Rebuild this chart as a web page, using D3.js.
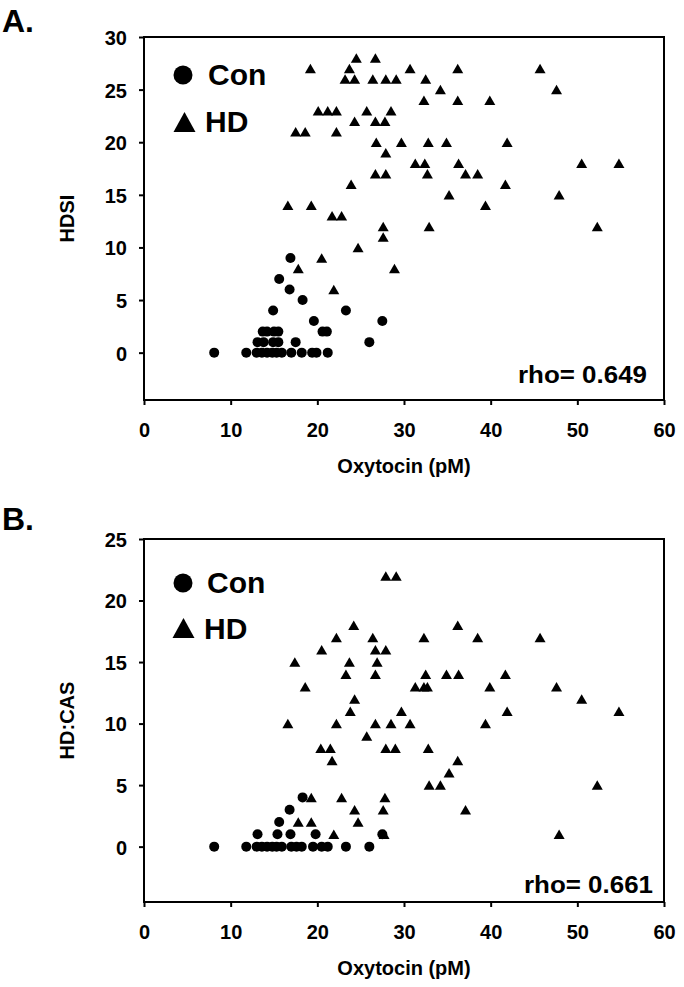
<!DOCTYPE html>
<html><head><meta charset="utf-8">
<script src="https://cdn.jsdelivr.net/npm/d3@7"></script>
<style>body{margin:0;background:#fff}</style>
</head><body>
<svg id="c" width="684" height="987"></svg>
<script>
// ---- data ----
const xTicks = [0, 10, 20, 30, 40, 50, 60];
const yTicksA = [0, 5, 10, 15, 20, 25, 30];
const yTicksB = [0, 5, 10, 15, 20, 25];

// Panel A: HDSI vs oxytocin
const conA = [
  [16.9,9],[15.6,7],[16.8,6],[18.3,5],[14.9,4],[23.3,4],[19.6,3],[27.5,3],
  [13.7,2],[14.2,2],[15.0,2],[15.5,2],[20.6,2],[21.1,2],
  [13.1,1],[13.8,1],[14.9,1],[15.5,1],[17.5,1],[26.0,1],
  [8.1,0],[11.8,0],[13.0,0],[13.6,0],[14.2,0],[14.8,0],[15.3,0],[15.9,0],
  [17.0,0],[18.2,0],[19.4,0],[19.9,0],[21.2,0]
];
const hdA = [
  [19.2,27],[24.5,28],[26.7,28],[23.7,27],[23.2,26],[24.3,26],[26.4,26],[27.9,26],
  [29.1,26],[30.7,27],[36.2,27],[45.7,27],[32.5,26],[34.2,25],[47.6,25],[32.3,24],
  [36.2,24],[39.9,24],[29.7,20],[32.8,20],[34.9,20],[41.9,20],[31.3,18],[32.4,18],
  [36.3,18],[50.5,18],[54.8,18],[32.7,17],[37.1,17],[38.5,17],[41.7,16],[35.2,15],
  [47.9,15],[39.4,14],[32.9,12],[52.3,12],
  [20.1,23],[21.2,23],[22.2,23],[25.7,23],[28.5,23],[24.3,22],[26.7,22],[27.8,22],
  [17.5,21],[18.6,21],[22.2,21],[26.8,20],[27.9,19],[26.7,17],[27.9,17],[23.9,16],
  [16.6,14],[19.3,14],[21.7,13],[22.8,13],[27.6,12],[27.6,11],[24.7,10],[20.5,9],
  [17.8,8],[28.9,8],[21.9,6]
];

// Panel B: HD:CAS vs oxytocin
const conB = [
  [18.3,4],[16.8,3],[15.6,2],
  [13.1,1],[15.4,1],[16.9,1],[19.8,1],[27.5,1],
  [8.1,0],[11.8,0],[13.0,0],[13.6,0],[14.2,0],[14.8,0],[15.3,0],[15.9,0],
  [17.0,0],[17.6,0],[18.2,0],[19.5,0],[20.5,0],[21.2,0],[23.3,0],[26.0,0]
];
const hdB = [
  [27.9,22],[29.1,22],[24.2,18],[22.2,17],[26.4,17],[20.5,16],[26.7,16],[27.9,16],
  [17.4,15],[23.7,15],[26.9,15],[23.3,14],[26.7,14],[18.6,13],[24.3,12],[23.8,11],
  [29.7,11],[16.6,10],[22.2,10],[26.7,10],[28.5,10],[30.7,10],[25.7,9],
  [36.2,18],[32.3,17],[38.5,17],[45.7,17],[32.5,14],[34.9,14],[36.3,14],[41.7,14],
  [31.3,13],[32.3,13],[32.7,13],[39.9,13],[47.6,13],[50.5,12],[41.9,11],[54.8,11],
  [39.4,10],
  [32.8,8],[36.2,7],[35.2,6],[32.9,5],[34.2,5],[52.3,5],[37.1,3],[47.9,1],
  [20.4,8],[21.5,8],[27.9,8],[29.0,8],[21.7,7],[19.3,4],[22.8,4],[27.8,4],
  [24.3,3],[27.6,3],[17.8,2],[19.3,2],[24.7,2],[21.9,1],[27.7,1]
];

const panels = [
  {label:"A.", yTitle:"HDSI", yMax:30, yTicks:yTicksA, con:conA, hd:hdA, rho:"rho= 0.649",
   top:37, labelY:32, rhoX:647, rhoY:383,
   legC:[183,75], legT:[184.5,122], conTxt:[208,85], hdTxt:[205,131.5]},
  {label:"B.", yTitle:"HD:CAS", yMax:25, yTicks:yTicksB, con:conB, hd:hdB, rho:"rho= 0.661",
   top:539, labelY:530, rhoX:653, rhoY:893,
   legC:[183,583], legT:[183.5,628], conTxt:[207,593], hdTxt:[204,639]}
];

const FONT = "'Liberation Sans', Arial, Helvetica, sans-serif";
const svg = d3.select("#c");
const L = 144, R = 664, H = 363;

function tri(w, h) { // triangle centered on its bounding box
  return `M${-w/2},${h/2}L${w/2},${h/2}L0,${-h/2}Z`;
}

panels.forEach(p => {
  const g = svg.append("g");
  const x = d3.scaleLinear().domain([0, 60]).range([L, R]);
  const y = d3.scaleLinear().domain([-4.5, p.yMax]).range([p.top + H, p.top]);
  const bottom = p.top + H;

  // axes
  const ya = g.append("g").attr("transform", `translate(${L},0)`)
    .call(d3.axisLeft(y).tickValues(p.yTicks).tickSize(5).tickPadding(12));
  const xa = g.append("g").attr("transform", `translate(0,${bottom})`)
    .call(d3.axisBottom(x).tickValues(xTicks).tickSize(5).tickPadding(18));
  [ya, xa].forEach(a => {
    a.attr("font-family", FONT).attr("font-size", 20).attr("font-weight", "bold");
    a.select(".domain").remove();
    a.selectAll(".tick line").attr("stroke", "#000").attr("stroke-width", 2);
    a.selectAll(".tick text").attr("fill", "#000");
  });
  ya.selectAll(".tick text").attr("dy", "0.37em");
  xa.selectAll(".tick text").attr("dy", "0.71em");

  // frame
  g.append("rect").attr("x", L).attr("y", p.top).attr("width", R - L).attr("height", H)
    .attr("fill", "none").attr("stroke", "#000").attr("stroke-width", 2);

  // titles
  g.append("text").attr("x", (L + R) / 2).attr("y", bottom + 73)
    .attr("text-anchor", "middle").attr("font-family", FONT).attr("font-size", 20)
    .attr("font-weight", "bold").text("Oxytocin (pM)");
  g.append("text").attr("transform", `translate(74,${p.top + H / 2}) rotate(-90)`)
    .attr("text-anchor", "middle").attr("font-family", FONT).attr("font-size", 20)
    .attr("font-weight", "bold").text(p.yTitle);
  g.append("text").attr("x", 2).attr("y", p.labelY).attr("font-family", FONT)
    .attr("font-size", 32).attr("font-weight", "bold").text(p.label);

  // points
  g.append("g").selectAll("circle").data(p.con).join("circle")
    .attr("cx", d => x(d[0])).attr("cy", d => y(d[1])).attr("r", 5).attr("fill", "#000");
  g.append("g").selectAll("path").data(p.hd).join("path")
    .attr("transform", d => `translate(${x(d[0])},${y(d[1])})`)
    .attr("d", tri(11, 9.5)).attr("fill", "#000");

  // legend
  g.append("circle").attr("cx", p.legC[0]).attr("cy", p.legC[1]).attr("r", 9.5).attr("fill", "#000");
  g.append("path").attr("transform", `translate(${p.legT[0]},${p.legT[1]})`)
    .attr("d", tri(22, 20)).attr("fill", "#000");
  g.append("text").attr("x", p.conTxt[0]).attr("y", p.conTxt[1]).attr("font-family", FONT)
    .attr("font-size", 30).attr("font-weight", "bold").text("Con");
  g.append("text").attr("x", p.hdTxt[0]).attr("y", p.hdTxt[1]).attr("font-family", FONT)
    .attr("font-size", 30).attr("font-weight", "bold").text("HD");

  // rho
  g.append("text").attr("x", p.rhoX - 129).attr("y", p.rhoY)
    .attr("textLength", 129).attr("lengthAdjust", "spacingAndGlyphs")
    .attr("font-family", FONT).attr("font-size", 23).attr("font-weight", "bold").text(p.rho);
});
</script>
</body></html>
